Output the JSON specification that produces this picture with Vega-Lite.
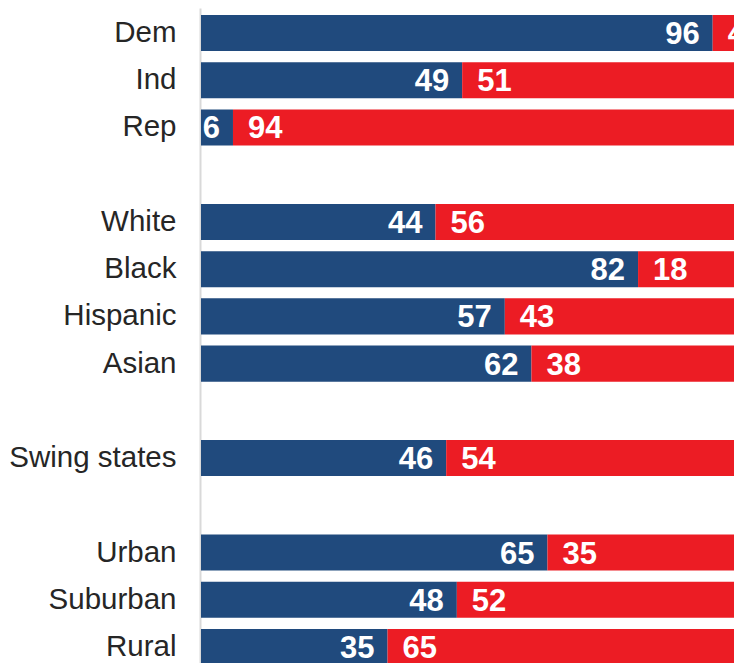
{
  "$schema": "https://vega.github.io/schema/vega-lite/v6.json",
  "width": 533,
  "height": 664,
  "padding": {"left": 201, "top": 8, "right": 0, "bottom": 0},
  "autosize": {"type": "none"},
  "background": "white",
  "config": {"view": {"stroke": null}},
  "data": {"values": [
    {"cat": "Dem", "dem": 96, "rep": 4},
    {"cat": "Ind", "dem": 49, "rep": 51},
    {"cat": "Rep", "dem": 6, "rep": 94},
    {"cat": "White", "dem": 44, "rep": 56},
    {"cat": "Black", "dem": 82, "rep": 18},
    {"cat": "Hispanic", "dem": 57, "rep": 43},
    {"cat": "Asian", "dem": 62, "rep": 38},
    {"cat": "Swing states", "dem": 46, "rep": 54},
    {"cat": "Urban", "dem": 65, "rep": 35},
    {"cat": "Suburban", "dem": 48, "rep": 52},
    {"cat": "Rural", "dem": 35, "rep": 65}
  ]},
  "encoding": {
    "y": {
      "field": "cat", "type": "nominal",
      "scale": {
        "domain": ["Dem", "Ind", "Rep", " ", "White", "Black", "Hispanic", "Asian", "  ", "Swing states", "   ", "Urban", "Suburban", "Rural"],
        "paddingInner": 0.237, "paddingOuter": 0.148
      },
      "axis": {
        "title": null, "ticks": false, "domainColor": "#d9d9d9", "domainWidth": 2, "offset": 1,
        "labelFont": "Liberation Sans", "labelFontSize": 29.5, "labelColor": "#262626", "labelPadding": 24
      }
    }
  },
  "layer": [
    {
      "mark": {"type": "bar", "color": "#204a7d"},
      "encoding": {
        "x": {"field": "dem", "type": "quantitative", "scale": {"domain": [0, 100], "nice": false}, "axis": null},
        "x2": {"datum": 0}
      }
    },
    {
      "mark": {"type": "bar", "color": "#ec1c24"},
      "encoding": {
        "x": {"field": "dem", "type": "quantitative"},
        "x2": {"datum": 100}
      }
    },
    {
      "mark": {"type": "text", "align": "right", "baseline": "middle", "dx": -13, "dy": 2, "color": "white", "font": "Liberation Sans", "fontWeight": "bold", "fontSize": 31},
      "encoding": {
        "x": {"field": "dem", "type": "quantitative"},
        "text": {"field": "dem", "type": "quantitative"}
      }
    },
    {
      "mark": {"type": "text", "align": "left", "baseline": "middle", "dx": 15, "dy": 2, "color": "white", "font": "Liberation Sans", "fontWeight": "bold", "fontSize": 31},
      "encoding": {
        "x": {"field": "dem", "type": "quantitative"},
        "text": {"field": "rep", "type": "quantitative"}
      }
    }
  ]
}
